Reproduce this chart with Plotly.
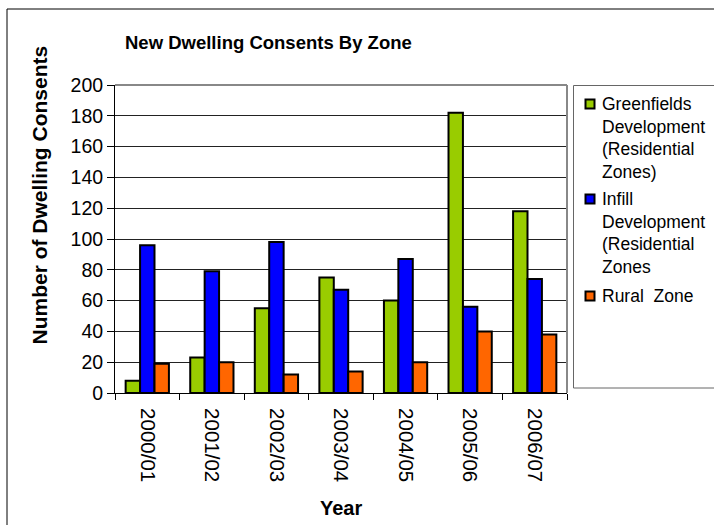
import plotly.graph_objects as go

years = ["2000/01", "2001/02", "2002/03", "2003/04", "2004/05", "2005/06", "2006/07"]
greenfields = [8, 23, 55, 75, 60, 182, 118]
infill = [96, 79, 98, 67, 87, 56, 74]
rural = [19, 20, 12, 14, 20, 40, 38]

names = [
    "Greenfields<br>Development<br>(Residential<br>Zones)",
    "Infill<br>Development<br>(Residential<br>Zones",
    "Rural  Zone",
]
colors = ["#99CC00", "#0000FF", "#FF6600"]

FONT = "Liberation Sans, Arial, sans-serif"
W, H = 714, 525
L, R, T, B = 115, 567, 85, 393  # plot area in px


def px(x):
    return (x - L) / (R - L)


def py(y):
    return (B - y) / (B - T)


fig = go.Figure()
for name, vals, col in zip(names, [greenfields, infill, rural], colors):
    fig.add_trace(go.Bar(
        x=years, y=vals, name=name.replace("<br>", " "),
        marker=dict(color=col, line=dict(color="black", width=2)),
        showlegend=False,
    ))

shapes = [
    # outer chart border
    dict(type="rect", xref="paper", yref="paper",
         x0=px(7), x1=px(760), y0=py(9), y1=py(560),
         line=dict(color="black", width=1)),
    # plot area border (top & right grey)
    dict(type="line", xref="paper", yref="paper", x0=0, x1=1, y0=1, y1=1,
         line=dict(color="#888888", width=2)),
    dict(type="line", xref="paper", yref="paper", x0=1, x1=1, y0=0, y1=1,
         line=dict(color="#888888", width=2)),
    # legend box
    dict(type="rect", xref="paper", yref="paper",
         x0=px(573.5), x1=px(760), y0=py(85.5), y1=py(388),
         line=dict(color="#666666", width=1)),
]
annotations = [
    dict(text="<b>New Dwelling Consents By Zone</b>", xref="paper", yref="paper",
         x=px(268), y=py(43), xanchor="center", yanchor="middle",
         showarrow=False, font=dict(size=18.5)),
    dict(text="<b>Number of Dwelling Consents</b>", xref="paper", yref="paper",
         x=px(38.5), y=py(195), xanchor="center", yanchor="middle", textangle=-90,
         showarrow=False, font=dict(size=21)),
    dict(text="<b>Year</b>", xref="paper", yref="paper",
         x=px(341), y=py(508), xanchor="center", yanchor="middle",
         showarrow=False, font=dict(size=20)),
]

# manual legend
item_tops = [104, 199, 296]
line_h = 22.6
for name, col, y0 in zip(names, colors, item_tops):
    shapes.append(dict(type="rect", xref="paper", yref="paper",
                       x0=px(585.5), x1=px(594.5), y0=py(y0 - 4.5), y1=py(y0 + 4.5),
                       fillcolor=col, line=dict(color="black", width=2)))
    for i, ln in enumerate(name.split("<br>")):
        annotations.append(dict(text=ln, xref="paper", yref="paper",
                                x=px(600), y=py(y0 + i * line_h), xanchor="left", yanchor="middle",
                                showarrow=False, font=dict(size=17.5)))

fig.update_layout(
    width=W, height=H,
    margin=dict(l=L, r=W - R, t=T, b=H - B, pad=0, autoexpand=False),
    paper_bgcolor="white", plot_bgcolor="white",
    font=dict(family=FONT, color="black"),
    barmode="group", bargap=0.33, bargroupgap=0,
    showlegend=False,
    xaxis=dict(
        showline=True, linecolor="black", linewidth=1,
        ticks="outside", ticklen=6, tickcolor="black", tickson="boundaries",
        tickangle=90, tickfont=dict(size=20.5), showgrid=False, automargin=False,
        ticklabelstandoff=10,
    ),
    yaxis=dict(
        range=[0, 200], tickvals=list(range(0, 201, 20)),
        showline=True, linecolor="black", linewidth=1,
        ticks="outside", ticklen=7, tickcolor="black",
        tickfont=dict(size=19.5), showgrid=True, gridcolor="#222222", gridwidth=1,
        zeroline=False, automargin=False,
    ),
    shapes=shapes,
    annotations=annotations,
)

fig.write_html(
    "out.html",
    config={"displayModeBar": False},
    post_script="document.body.style.margin='0';document.body.style.padding='0';document.body.style.overflow='hidden';",
)
